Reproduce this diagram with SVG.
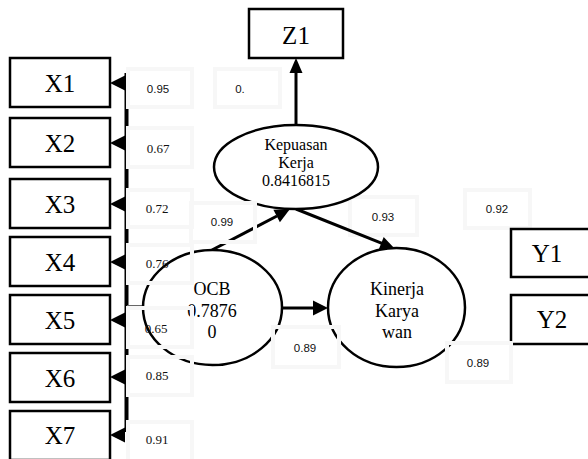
<svg xmlns="http://www.w3.org/2000/svg" width="588" height="459" viewBox="0 0 588 459">
<style>
.box{fill:#fff;stroke:#000;stroke-width:2.5}
.ell{fill:#fff;stroke:#000;stroke-width:2.5}
.ln{stroke:#000;stroke-width:3;fill:none}
.ah{fill:#000}
.nt{font-family:"Liberation Serif","Times New Roman",serif;font-size:25px;fill:#000;text-anchor:middle}
.et{font-family:"Liberation Serif","Times New Roman",serif;font-size:18px;fill:#000;text-anchor:middle}
.kt{font-family:"Liberation Serif","Times New Roman",serif;font-size:16px;fill:#000;text-anchor:middle}
.lb{fill:none;stroke:#f7f7f7;stroke-width:4}
.ls{font-family:"Liberation Sans",Arial,sans-serif;font-size:11.5px;fill:#111;text-anchor:middle}
.lr{font-family:"Liberation Serif","Times New Roman",serif;font-size:13px;fill:#111;text-anchor:middle}
</style>

<g id="label-093">
<rect class="lb" x="350" y="197" width="67" height="38"/>
<text class="ls" x="383" y="220.5">0.93</text>
</g>
<g id="label-092">
<rect class="lb" x="465" y="190" width="65" height="38"/>
<text class="ls" x="497" y="213">0.92</text>
</g>
<g id="label-0dot">
<rect class="lb" x="215" y="69" width="65" height="38"/>
<text class="ls" x="240" y="93">0.</text>
</g>

<g id="connectors">
<line class="ln" x1="126.5" y1="73" x2="126.5" y2="432" style="stroke-width:4"/>
<line x1="127" y1="305.5" x2="144" y2="305.5" stroke="#666" stroke-width="1"/>
<polygon class="ah" points="110,83 125,75.5 125,90.5"/>
<polygon class="ah" points="110,143 125,135.5 125,150.5"/>
<polygon class="ah" points="110,204 125,196.5 125,211.5"/>
<polygon class="ah" points="110,262 125,254.5 125,269.5"/>
<polygon class="ah" points="110,320 125,312.5 125,327.5"/>
<polygon class="ah" points="110,377 125,369.5 125,384.5"/>
<polygon class="ah" points="110,435 125,427.5 125,442.5"/>
<line class="ln" x1="296" y1="125" x2="296" y2="72"/>
<polygon class="ah" points="296,58 289.5,73 302.5,73"/>
<line class="ln" x1="212" y1="250" x2="277" y2="216"/>
<polygon class="ah" points="290,209 279.9,222.2 273.4,209.8"/>
<line class="ln" x1="296" y1="209" x2="382" y2="243.4"/>
<polygon class="ah" points="395,249 378.5,249.9 383.7,236.9"/>
<line class="ln" x1="282" y1="308" x2="314" y2="308"/>
<polygon class="ah" points="328,308 313,300.5 313,315.5"/>
</g>

<g id="X1"><rect class="box" x="10" y="58" width="100" height="49"/><text class="nt" x="60" y="92">X1</text></g>
<g id="X2"><rect class="box" x="10" y="118" width="100" height="49"/><text class="nt" x="60" y="152">X2</text></g>
<g id="X3"><rect class="box" x="10" y="179" width="100" height="49"/><text class="nt" x="60" y="213">X3</text></g>
<g id="X4"><rect class="box" x="10" y="237" width="100" height="49"/><text class="nt" x="60" y="271">X4</text></g>
<g id="X5"><rect class="box" x="10" y="295" width="100" height="49"/><text class="nt" x="60" y="329">X5</text></g>
<g id="X6"><rect class="box" x="10" y="353" width="100" height="49"/><text class="nt" x="60" y="386.5">X6</text></g>
<g id="X7"><rect class="box" x="10" y="411" width="100" height="49"/><text class="nt" x="60" y="444">X7</text></g>
<g id="Z1"><rect class="box" x="249" y="9" width="94" height="49"/><text class="nt" x="296" y="44">Z1</text></g>
<g id="Y1"><rect class="box" x="511" y="229" width="100" height="48"/><text class="nt" x="547" y="262">Y1</text></g>
<g id="Y2"><rect class="box" x="511" y="295" width="100" height="49"/><text class="nt" x="552" y="328">Y2</text></g>

<g id="kepuasan">
<ellipse class="ell" cx="296" cy="167" rx="82" ry="42"/>
<text class="kt" x="296" y="150">Kepuasan</text>
<text class="kt" x="296" y="168">Kerja</text>
<text class="kt" x="296" y="186">0.8416815</text>
</g>
<g id="ocb">
<ellipse class="ell" cx="212.5" cy="307.5" rx="69.5" ry="57.5"/>
<text class="et" x="212" y="295">OCB</text>
<text class="et" x="212" y="317">0.7876</text>
<text class="et" x="212" y="338">0</text>
</g>
<g id="kinerja">
<ellipse class="ell" cx="396.5" cy="307.5" rx="68.5" ry="59.5"/>
<text class="et" x="397" y="295">Kinerja</text>
<text class="et" x="397" y="316.5">Karya</text>
<text class="et" x="397" y="338">wan</text>
</g>

<g id="label-095"><rect class="lb" x="128" y="69" width="64" height="38"/><text class="ls" x="158" y="92.5">0.95</text></g>
<g id="label-067"><rect class="lb" x="128" y="128" width="64" height="39"/><text class="lr" x="158" y="152.5">0.67</text></g>
<g id="label-072"><rect class="lb" x="128" y="190" width="64" height="37"/><text class="lr" x="157" y="213">0.72</text></g>
<g id="label-099"><rect class="lb" x="191" y="203" width="64" height="39"/><text class="ls" x="222" y="226">0.99</text></g>
<g id="label-076"><rect class="lb" x="128" y="245" width="64" height="38"/><text class="lr" x="157" y="268">0.76</text></g>
<g id="label-065"><rect class="lb" x="128" y="308" width="64" height="39"/><text class="lr" x="156" y="332.5">0.65</text></g>
<g id="label-085"><rect class="lb" x="128" y="357" width="64" height="38"/><text class="lr" x="157" y="380">0.85</text></g>
<g id="label-091"><rect class="lb" x="128" y="422" width="64" height="40"/><text class="lr" x="157" y="444">0.91</text></g>
<g id="label-089a"><rect class="lb" x="273" y="327" width="66" height="40"/><text class="ls" x="305" y="351.5">0.89</text></g>
<g id="label-089b"><rect class="lb" x="447" y="343" width="64" height="39"/><text class="ls" x="478" y="367">0.89</text></g>
</svg>
